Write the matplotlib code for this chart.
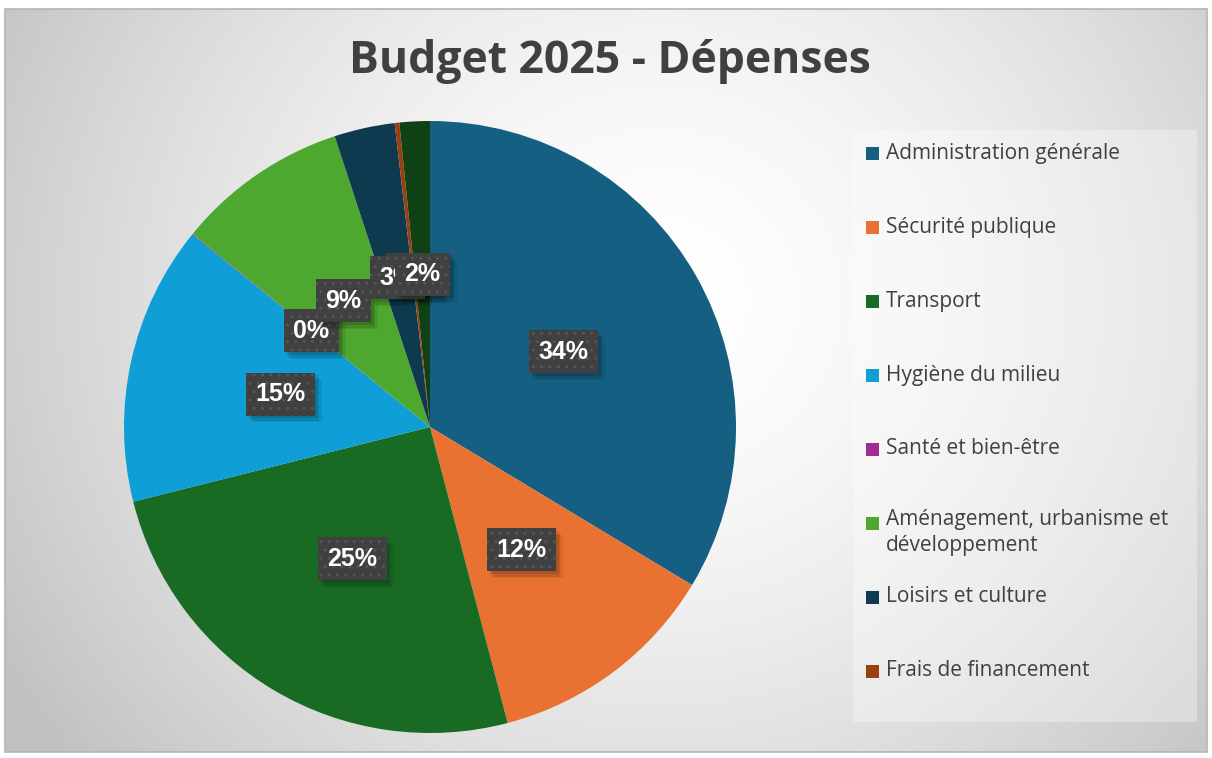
import numpy as np
import matplotlib
matplotlib.use("Agg")
import matplotlib.pyplot as plt
from matplotlib.patches import Rectangle
import matplotlib.transforms as mtrans
import matplotlib.patheffects as pe

# ---- data ----
categories = ["Administration générale", "Sécurité publique", "Transport",
              "Hygiène du milieu", "Santé et bien-être",
              "Aménagement, urbanisme et\ndéveloppement", "Loisirs et culture",
              "Frais de financement", "Autres"]
values = [33.7, 12.3, 25.2, 14.8, 0.03, 9.1, 3.2, 0.25, 1.6]
colors = ["#156082", "#E97132", "#196B24", "#0F9ED5", "#A02B93",
          "#4EA72E", "#0D3A4F", "#9A3F10", "#0F4115"]
legend_count = 8  # the legend shows the first eight categories
title = "Budget 2025 - Dépenses"


class NoHatchShadow(pe.SimplePatchShadow):
    def draw_path(self, renderer, gc, tpath, affine, rgbFace):
        gc0 = renderer.new_gc()
        gc0.copy_properties(gc)
        gc0.set_hatch(None)
        super().draw_path(renderer, gc0, tpath, affine, rgbFace)
        gc0.restore()


W, H = 1212, 758
fig = plt.figure(figsize=(W / 100, H / 100), dpi=100)
fig.patch.set_facecolor("white")

# ---- background axes in pixel coordinates ----
bg = fig.add_axes([0, 0, 1, 1])
bg.axis("off")
bg.set_zorder(0)

x0, y0, x1, y1 = 5, 9, 1207, 752
yy, xx = np.mgrid[y0:y1, x0:x1]
d = np.sqrt(((xx - 660) / 1.0) ** 2 + ((yy - 300) / 0.95) ** 2)
v = 1 - 0.24 * np.clip(d / 760, 0, 1) ** 1.6
img = np.dstack([v, v, v])
bg.imshow(img, extent=(x0, x1, y1, y0), interpolation="bilinear", zorder=0)
bg.add_patch(Rectangle((x0, y0), x1 - x0, y1 - y0, fill=False,
                       edgecolor="#b4b4b4", lw=1.2, zorder=1))
bg.set_xlim(0, W)
bg.set_ylim(H, 0)

# legend box
bg.add_patch(Rectangle((853, 130), 344, 592, facecolor="white", alpha=0.32,
                       edgecolor="none", zorder=2))

fig.text(610 / W, 1 - 62 / H, title, ha="center", va="center",
         fontsize=32, fontweight="bold", color="#404040", family="Open Sans")

# ---- pie ----
cx, cy, r = 430, 427, 306
pax = fig.add_axes([(cx - r) / W, (H - cy - r) / H, 2 * r / W, 2 * r / H])
pax.set_zorder(1)
pax.patch.set_alpha(0)
total = sum(values)
wedges, _ = pax.pie(values, colors=colors, startangle=90, counterclock=False,
                    radius=1.0, wedgeprops=dict(linewidth=0))
pax.set_xlim(-1, 1)
pax.set_ylim(-1, 1)
pax.set_aspect("equal")
pax.axis("off")

# labels at half radius, later labels on top; Frais label hidden beneath
order_z = [10, 11, 12, 13, 14, 15, 17, 16, 18]
shadow = [NoHatchShadow(offset=(2, -2), shadow_rgbFace="black", alpha=0.10),
          NoHatchShadow(offset=(3, -4), shadow_rgbFace="black", alpha=0.10),
          NoHatchShadow(offset=(5, -5), shadow_rgbFace="black", alpha=0.08),
          pe.Normal()]
for i, w in enumerate(wedges):
    ang = np.deg2rad((w.theta1 + w.theta2) / 2)
    lx, ly = 0.5 * np.cos(ang), 0.5 * np.sin(ang)
    txt = f"{values[i] / total * 100:.0f}%"
    t = pax.text(lx, ly, txt, ha="center", va="center", fontsize=18,
                 fontweight="bold", color="white", family="Liberation Sans",
                 zorder=order_z[i],
                 bbox=dict(boxstyle="square,pad=0.38", facecolor="#404040",
                           edgecolor="#555555", hatch="..", linewidth=0))
    t.get_bbox_patch().set_path_effects(shadow)

# ---- legend ----
for i in range(legend_count):
    yc = 153 + 74 * i
    multi = "\n" in categories[i]
    bg.add_patch(Rectangle((866, yc - 6.5), 13, 13, facecolor=colors[i],
                           edgecolor="none", zorder=3))
    bg.text(886, yc, categories[i], ha="left", va="top" if multi else "center",
            fontsize=15, color="#404040", family="Open Sans", zorder=3,
            linespacing=1.3,
            transform=mtrans.offset_copy(bg.transData, fig=fig, x=0,
                                          y=(14 if multi else 0),
                                          units="dots"))

fig.savefig("out.png", dpi=100, facecolor="white")
